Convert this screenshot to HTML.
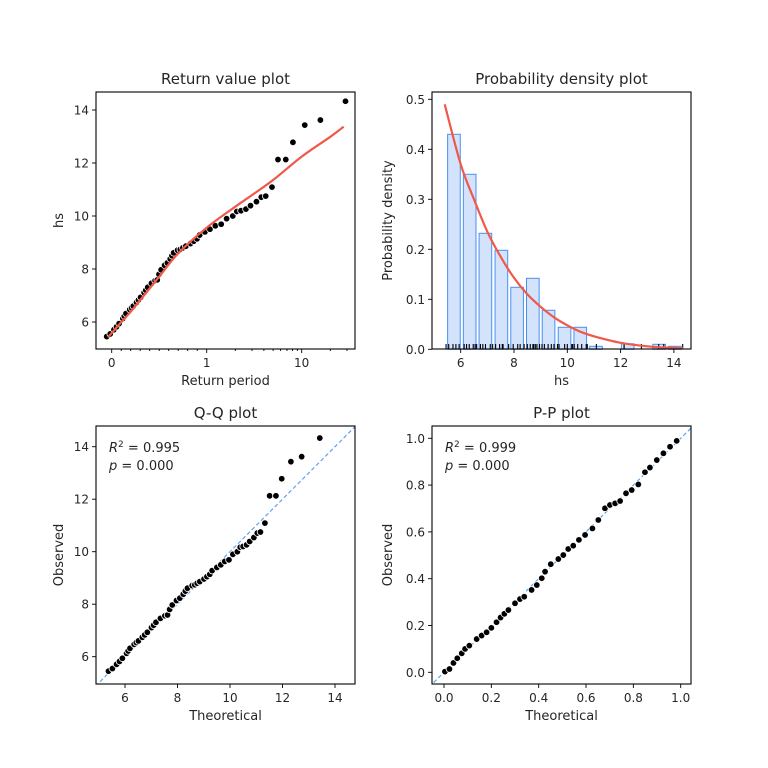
<!DOCTYPE html>
<html><head><meta charset="utf-8"><style>
html,body{margin:0;padding:0;background:#fff;}
svg{display:block;font-family:"DejaVu Sans","Liberation Sans",sans-serif;}
</style></head><body>
<svg id="fig" width="768" height="768" viewBox="0 0 768 768"></svg>
<script>
// ---------- data ----------
const qqTheoretical=[5.37,5.52,5.68,5.79,5.9,6.06,6.12,6.19,6.35,6.43,6.51,6.66,6.75,6.85,7.01,7.09,7.18,7.35,7.52,7.62,7.7,7.8,7.96,8.09,8.22,8.3,8.38,8.56,8.66,8.75,8.85,9.01,9.12,9.23,9.32,9.5,9.65,9.8,9.96,10.11,10.28,10.39,10.5,10.63,10.75,10.91,11.04,11.16,11.33,11.51,11.75,11.97,12.32,12.73,13.42];
const qqObserved=[5.45,5.55,5.71,5.82,5.94,6.13,6.22,6.32,6.47,6.54,6.6,6.74,6.83,6.93,7.11,7.2,7.31,7.46,7.56,7.59,7.8,7.97,8.14,8.23,8.38,8.5,8.61,8.71,8.74,8.8,8.86,8.96,9.05,9.14,9.28,9.4,9.5,9.63,9.69,9.9,10.0,10.17,10.2,10.26,10.39,10.54,10.71,10.75,11.09,12.13,12.13,12.78,13.43,13.62,14.33];
const rvCurvePeriod=[-0.04,0.1,0.2,0.3,0.5,0.7,1,2,3,5,10,20,27.7];
const rvCurveValue=[5.42,5.99,6.39,6.83,7.71,8.59,9.56,10.35,10.79,11.36,12.24,12.99,13.37];
const histBinStart=[5.45,6.04,6.63,7.23,7.82,8.41,9.0,9.6,10.19,10.78,11.37,11.97,12.56,13.15,13.74];
const histDensity=[0.43,0.35,0.232,0.198,0.124,0.142,0.078,0.044,0.044,0.006,0,0.011,0.0,0.01,0.006];
const pdfX=[5.4,6,6.5,7,7.5,8,8.5,9,9.5,10,10.5,11,11.5,12,12.5,13,13.5,14,14.35];
const pdfY=[0.49,0.37,0.30,0.235,0.185,0.143,0.11,0.085,0.064,0.048,0.035,0.026,0.019,0.013,0.009,0.006,0.004,0.003,0.002];
const ppTheoretical=[0.004,0.023,0.04,0.056,0.075,0.089,0.107,0.138,0.159,0.18,0.2,0.222,0.239,0.255,0.272,0.3,0.321,0.339,0.37,0.392,0.413,0.427,0.451,0.483,0.504,0.525,0.546,0.57,0.596,0.627,0.652,0.68,0.701,0.723,0.744,0.769,0.793,0.821,0.849,0.87,0.899,0.927,0.955,0.983];
const ppObserved=[0.003,0.014,0.04,0.06,0.081,0.1,0.114,0.142,0.157,0.171,0.19,0.214,0.234,0.25,0.266,0.295,0.313,0.323,0.352,0.373,0.402,0.43,0.462,0.484,0.501,0.527,0.541,0.566,0.587,0.615,0.651,0.701,0.715,0.722,0.732,0.765,0.779,0.803,0.855,0.875,0.907,0.936,0.964,0.989];

const NS='http://www.w3.org/2000/svg';
const svg=document.getElementById('fig');
function el(tag,attrs,parent,text){const e=document.createElementNS(NS,tag);for(const k in attrs)e.setAttribute(k,attrs[k]);if(text!==undefined)e.textContent=text;(parent||svg).appendChild(e);return e;}
const TXT='#262626';
function lin(d0,d1,r0,r1){return v=>r0+(v-d0)*(r1-r0)/(d1-d0);}
function smoothPath(P){let d='M'+P[0][0].toFixed(1)+','+P[0][1].toFixed(1);
 for(let i=0;i<P.length-1;i++){const p0=P[i-1]||P[i],p1=P[i],p2=P[i+1],p3=P[i+2]||p2;
  const c1=[p1[0]+(p2[0]-p0[0])/6,p1[1]+(p2[1]-p0[1])/6],c2=[p2[0]-(p3[0]-p1[0])/6,p2[1]-(p3[1]-p1[1])/6];
  d+='C'+c1[0].toFixed(1)+','+c1[1].toFixed(1)+' '+c2[0].toFixed(1)+','+c2[1].toFixed(1)+' '+p2[0].toFixed(1)+','+p2[1].toFixed(1);}
 return d;}

function frame(g,L,T,R,B){const r=el('rect',{x:L,y:T,width:R-L,height:B-T,fill:'none',stroke:'#000','stroke-width':1.1},g);}
function xTick(g,px,B,label,len){el('line',{x1:px,x2:px,y1:B,y2:B+(len||4),stroke:'#000','stroke-width':0.9},g);if(label!==null&&label!==undefined){const t=el('text',{x:px,y:B+18,'text-anchor':'middle','font-size':12,fill:TXT},g,label);}}
function yTick(g,py,L,label){el('line',{x1:L,x2:L-4,y1:py,y2:py,stroke:'#000','stroke-width':0.9},g);const t=el('text',{x:L-7,y:py+4.5,'text-anchor':'end','font-size':12,fill:TXT},g,label);}
function titles(g,L,T,R,B,title,xl,yl,yoff){
 const t=el('text',{x:(L+R)/2,y:T-8,'text-anchor':'middle','font-size':15,fill:TXT},g,title);
 const x=el('text',{x:(L+R)/2,y:B+36,'text-anchor':'middle','font-size':13,fill:TXT},g,xl);
 const cx=L-yoff,cy=(T+B)/2;const y=el('text',{x:cx,y:cy,'text-anchor':'middle','font-size':13,fill:TXT,transform:`rotate(-90 ${cx} ${cy})`},g,yl);}
function dot(g,x,y){const c=el('circle',{cx:x,cy:y,r:3.3,fill:'#000',stroke:'#fff','stroke-width':0.8},g);}
function clip(id,L,T,R,B){const d=el('defs',{});const c=el('clipPath',{id:id},d);el('rect',{x:L,y:T,width:R-L,height:B-T},c);}

// ---------- Return value plot ----------
(function(){
 const L=96,T=92,R=355,B=349;
 const g=el('g',{});
 const sx=v=>v<=1?111.7+95*v:206.7+95*Math.log10(v);
 const sy=lin(6,14,322,110);
 clip('c1',L,T,R,B);
 function periodOf(v){const n=rvCurveValue.length;let i=0;if(v<=rvCurveValue[0])i=0;else if(v>=rvCurveValue[n-1])i=n-2;else{while(rvCurveValue[i+1]<v)i++;}
  const f=(v-rvCurveValue[i])/(rvCurveValue[i+1]-rvCurveValue[i]);
  const a=sx(rvCurvePeriod[i]),b=sx(rvCurvePeriod[i+1]);return a+f*(b-a);}
 qqObserved.forEach((o,i)=>dot(g,periodOf(qqTheoretical[i]),sy(o)));
 const P=rvCurvePeriod.map((p,i)=>[sx(p),sy(rvCurveValue[i])]);
 const c=el('path',{d:smoothPath(P),fill:'none',stroke:'#f0584a','stroke-width':2.2,'clip-path':'url(#c1)'},g);
 frame(g,L,T,R,B);
 [[0,'0'],[1,'1'],[10,'10']].forEach(t=>xTick(g,sx(t[0]),B,t[1],4));
 for(let k=1;k<10;k++)xTick(g,sx(k/10),B,null,2);
 [2,3,4,5,6,7,8,9,20,30].forEach(k=>{if(sx(k)<R)xTick(g,sx(k),B,null,2);});
 [6,8,10,12,14].forEach(v=>yTick(g,sy(v),L,String(v)));
 titles(g,L,T,R,B,'Return value plot','Return period','hs',33);
})();

// ---------- Probability density plot ----------
(function(){
 const L=432,T=92,R=691,B=349;
 const g=el('g',{});
 const sx=lin(6,8,460.7,514),sy=lin(0,0.5,349.3,99.3);
 const w=0.593;
 histBinStart.forEach((s,i)=>{const h=histDensity[i];if(h<=0)return;
  const x0=sx(s+w*0.1),x1=sx(s+w*0.9);
  const r=el('rect',{x:x0,y:sy(h),width:x1-x0,height:sy(0)-sy(h),fill:'#d2e3fb',stroke:'#4a90f0','stroke-width':1},g);});
 qqObserved.forEach(v=>{const l=el('line',{x1:sx(v),x2:sx(v),y1:B,y2:B-5,stroke:'#000','stroke-width':1.1},g);});
 const P=pdfX.map((x,i)=>[sx(x),sy(pdfY[i])]);
 const c=el('path',{d:smoothPath(P),fill:'none',stroke:'#f0584a','stroke-width':2.2},g);
 frame(g,L,T,R,B);
 [6,8,10,12,14].forEach(v=>xTick(g,sx(v),B,String(v)));
 [0,0.1,0.2,0.3,0.4,0.5].forEach(v=>yTick(g,sy(v),L,v.toFixed(1)));
 titles(g,L,T,R,B,'Probability density plot','hs','Probability density',40);
})();

function statsText(g,x,y,r2){
 const t=el('text',{x:x,y:y,'font-size':13,fill:TXT},g);
 el('tspan',{'font-style':'italic'},t,'R');el('tspan',{'font-size':9,dy:-5},t,'2');el('tspan',{dy:5},t,' = '+r2);
 const p=el('text',{x:x,y:y+18,'font-size':13,fill:TXT},g);
 el('tspan',{'font-style':'italic'},p,'p');el('tspan',{},p,' = 0.000');}

// ---------- Q-Q plot ----------
(function(){
 const L=96,T=426,R=355,B=684;
 const g=el('g',{});
 const sx=lin(6,14,125,335),sy=lin(6,14,656.7,446.7);
 clip('c3',L,T,R,B);
 const dl=el('line',{x1:sx(4),y1:sy(4),x2:sx(16),y2:sy(16),stroke:'#5ba3f5','stroke-width':1.2,'stroke-dasharray':'4,2.5','clip-path':'url(#c3)'},g);
 qqTheoretical.forEach((t,i)=>dot(g,sx(t),sy(qqObserved[i])));
 frame(g,L,T,R,B);
 [6,8,10,12,14].forEach(v=>xTick(g,sx(v),B,String(v)));
 [6,8,10,12,14].forEach(v=>yTick(g,sy(v),L,String(v)));
 titles(g,L,T,R,B,'Q-Q plot','Theoretical','Observed',33);
 statsText(g,109,452,'0.995');
})();

// ---------- P-P plot ----------
(function(){
 const L=432,T=426,R=691,B=684;
 const g=el('g',{});
 const sx=lin(0,1,444,680.7),sy=lin(0,1,672.3,438.3);
 clip('c4',L,T,R,B);
 const dl=el('line',{x1:sx(-0.2),y1:sy(-0.2),x2:sx(1.2),y2:sy(1.2),stroke:'#5ba3f5','stroke-width':1.2,'stroke-dasharray':'4,2.5','clip-path':'url(#c4)'},g);
 ppTheoretical.forEach((t,i)=>dot(g,sx(t),sy(ppObserved[i])));
 frame(g,L,T,R,B);
 [0,0.2,0.4,0.6,0.8,1.0].forEach(v=>xTick(g,sx(v),B,v.toFixed(1)));
 [0,0.2,0.4,0.6,0.8,1.0].forEach(v=>yTick(g,sy(v),L,v.toFixed(1)));
 titles(g,L,T,R,B,'P-P plot','Theoretical','Observed',40);
 statsText(g,445,452,'0.999');
})();
</script>
</body></html>
